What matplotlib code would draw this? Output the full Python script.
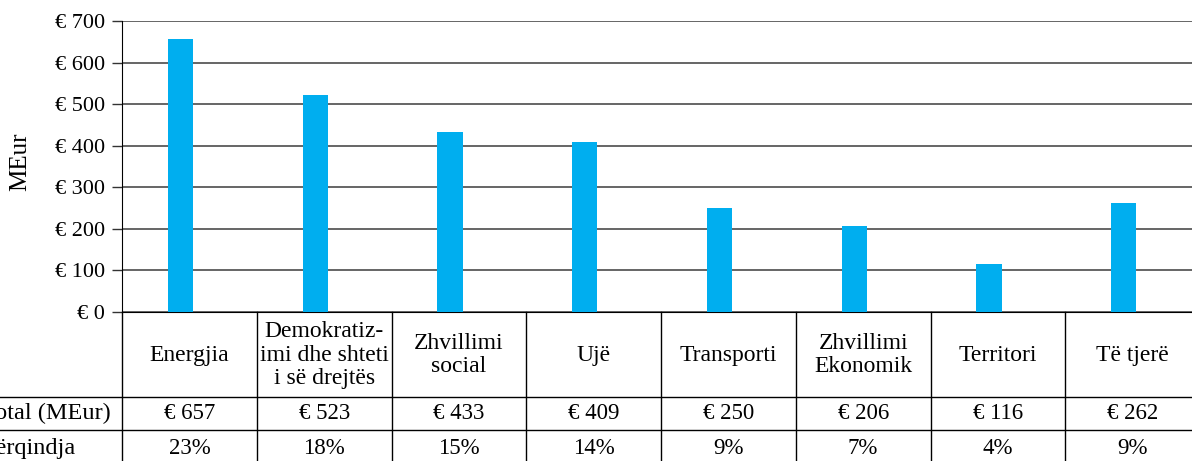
import matplotlib.pyplot as plt
import numpy as np

plt.rcParams['font.family'] = ['Liberation Serif', 'DejaVu Serif']

# data
categories = ["Energjia", "Demokratiz-\nimi dhe shteti\ni së drejtës", "Zhvillimi\nsocial", "Ujë",
              "Transporti", "Zhvillimi\nEkonomik", "Territori", "Të tjerë"]
values = [657, 523, 433, 409, 250, 206, 116, 262]      # MEur
shares = [23, 18, 15, 14, 9, 7, 4, 9]                  # percent
row_labels = ["Total (MEur)", "Përqindja"]
yticks = [0, 100, 200, 300, 400, 500, 600, 700]

W, H = 1192, 461
fig = plt.figure(figsize=(W / 100, H / 100), dpi=100)


def box(l, t, r, b):
    # pixel box -> figure fraction rect
    return [l / W, 1 - b / H, (r - l) / W, (b - t) / H]


n = len(values)
ax = fig.add_axes(box(122, 21, 1200, 312))
x = np.arange(n)
ax.bar(x + 0.5 - 0.066, values, width=0.186, color='#00AEEF', zorder=3)
ax.set_xlim(0, n)
ax.set_ylim(0, 700)
ax.set_yticks(yticks)
ax.set_yticklabels([f"€ {v}" for v in yticks], fontsize=16)
ax.tick_params(axis='y', length=7, width=1, color='#333333', pad=5)
ax.tick_params(axis='x', length=0, labelbottom=False)
ax.grid(axis='y', color='#3c3c3c', lw=1.1, zorder=0)
for s in ['top', 'right']:
    ax.spines[s].set_visible(False)
ax.spines['left'].set_color('black')
ax.spines['bottom'].set_color('black')
fig.text(20 / W, 1 - 162 / H, "MEur", rotation=90, ha='center', va='center', fontsize=18)

# data table under the chart
tab = fig.add_axes(box(122, 312, 1200, 461))
tab.set_xlim(0, n)
tab.set_ylim(149, 0)
tab.axis('off')
col_px = 1078 / n
x_left = -122 / col_px
for i in range(n + 1):
    tab.plot([i, i], [0, 149], color='black', lw=1, clip_on=False)
for yy in [85, 118]:
    tab.plot([x_left, n], [yy, yy], color='black', lw=1, clip_on=False)

for i in range(n):
    tab.text(i + 0.5, 43, categories[i], ha='center', va='center', fontsize=17, linespacing=1.17)
    tab.text(i + 0.5, 101.5, f"€ {values[i]}", ha='center', va='center', fontsize=16.5)
    tab.text(i + 0.5, 136, f"{shares[i]}%", ha='center', va='center', fontsize=16.5)

lab_x = (-18 - 122) / col_px
tab.text(lab_x, 101.5, row_labels[0], ha='left', va='center', fontsize=17.5)
tab.text(lab_x, 136, row_labels[1], ha='left', va='center', fontsize=17.5)

fig.savefig('out.png', dpi=100)
